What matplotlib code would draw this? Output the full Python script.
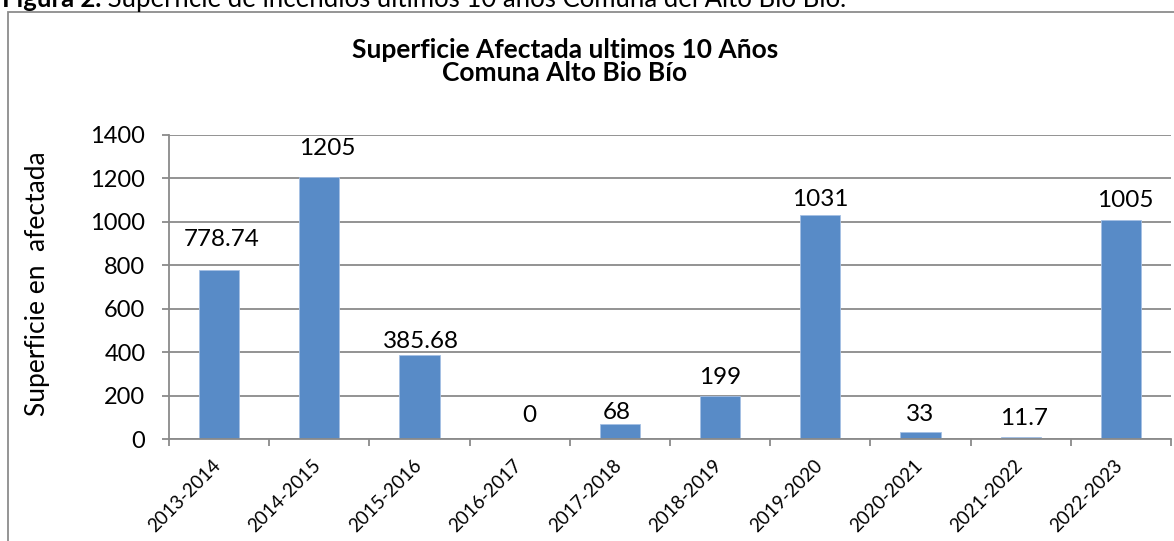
import matplotlib
matplotlib.use('Agg')
import matplotlib.pyplot as plt
from matplotlib.patches import Rectangle
from matplotlib.ticker import FixedLocator
from matplotlib.transforms import ScaledTranslation

# ---- data ----
seasons = ['2013-2014', '2014-2015', '2015-2016', '2016-2017', '2017-2018',
           '2018-2019', '2019-2020', '2020-2021', '2021-2022', '2022-2023']
area = [778.74, 1205, 385.68, 0, 68, 199, 1031, 33, 11.7, 1005]
value_labels = ['778.74', '1205', '385.68', '0', '68', '199', '1031', '33', '11.7', '1005']
y_ticks = [0, 200, 400, 600, 800, 1000, 1200, 1400]

title_lines = ['Superficie Afectada ultimos 10 Años', 'Comuna Alto Bio Bío']
ylabel = 'Superficie en  afectada'
caption_bold = 'Figura 2.'
caption_rest = ' Superficie de incendios ultimos 10 años Comuna del Alto Bío Bío.'

# ---- style ----
plt.rcParams['font.family'] = ['Lato', 'DejaVu Sans']
W, H = 1174, 541
BAR = '#588BC7'
GRID = '#8A8A8A'
# label nudges in pixels (dx, height of label centre above bar top)
nudges = [(3, 30), (8, 28), (1, 14), (10, 24), (-3, 12), (0, 18), (0, 15), (0, 18), (3, 18), (4, 20)]

fig = plt.figure(figsize=(W / 100, H / 100), dpi=100)

def fx(px):
    return px / W

def fy(py):
    return 1 - py / H

# outer chart frame (extends beyond the picture at right and bottom)
fig.patches.append(Rectangle((fx(8), -0.1), 1.2, fy(12) + 0.1, transform=fig.transFigure,
                             fill=False, edgecolor='#8C8C8C', linewidth=1.3, clip_on=False))

ax = fig.add_axes([fx(169), fy(439.3), fx(1171) - fx(169), fy(134.5) - fy(439.3)])
x = list(range(len(seasons)))
ax.bar(x, area, width=0.4, color=BAR, edgecolor='#A4C0E4', linewidth=0.6, zorder=3)

ax.set_xlim(-0.5, len(seasons) - 0.5)
ax.set_ylim(0, 1400)
ax.set_yticks(y_ticks)
ax.yaxis.grid(True, color=GRID, linewidth=1.3, zorder=1)
ax.set_axisbelow(True)
for s in ['top', 'right']:
    ax.spines[s].set_visible(False)
for s in ['left', 'bottom']:
    ax.spines[s].set_color(GRID)
    ax.spines[s].set_linewidth(1.3)
    ax.spines[s].set_zorder(4)

ax.tick_params(axis='y', length=5, width=1.3, color=GRID, labelsize=17, pad=12)
ax.set_xticks(x)
ax.set_xticklabels(seasons, rotation=45, ha='right', va='center', rotation_mode='anchor', fontsize=13.5)
ax.tick_params(axis='x', which='major', length=0, pad=17)
shift = ScaledTranslation(-1 / 100, 0, fig.dpi_scale_trans)
for lab in ax.get_xticklabels():
    lab.set_transform(lab.get_transform() + shift)
ax.xaxis.set_minor_locator(FixedLocator([i - 0.5 for i in range(len(seasons) + 1)]))
ax.tick_params(axis='x', which='minor', length=5, width=1.3, color=GRID)

for xi, v, lab, (dx, dy) in zip(x, area, value_labels, nudges):
    ax.annotate(lab, (xi, v), xytext=(dx * 0.72, dy * 0.72), textcoords='offset points',
                ha='center', va='center', fontsize=17.5, color='black', zorder=5)

for line, ypx in zip(title_lines, [50, 73]):
    fig.text(fx(565), fy(ypx), line, ha='center', va='center', fontsize=19, fontweight='bold')
fig.text(fx(38), fy(283.5), ylabel, ha='center', va='center', rotation=90, fontsize=19)

# caption (cut at the top edge)
renderer = fig.canvas.get_renderer()
t1 = fig.text(fx(2), fy(7), caption_bold, ha='left', va='baseline', fontsize=18.5, fontweight='bold')
bb = t1.get_window_extent(renderer=renderer)
fig.text(bb.x1 / W, fy(7), caption_rest, ha='left', va='baseline', fontsize=18.5)

fig.savefig('out.png', dpi=100)
